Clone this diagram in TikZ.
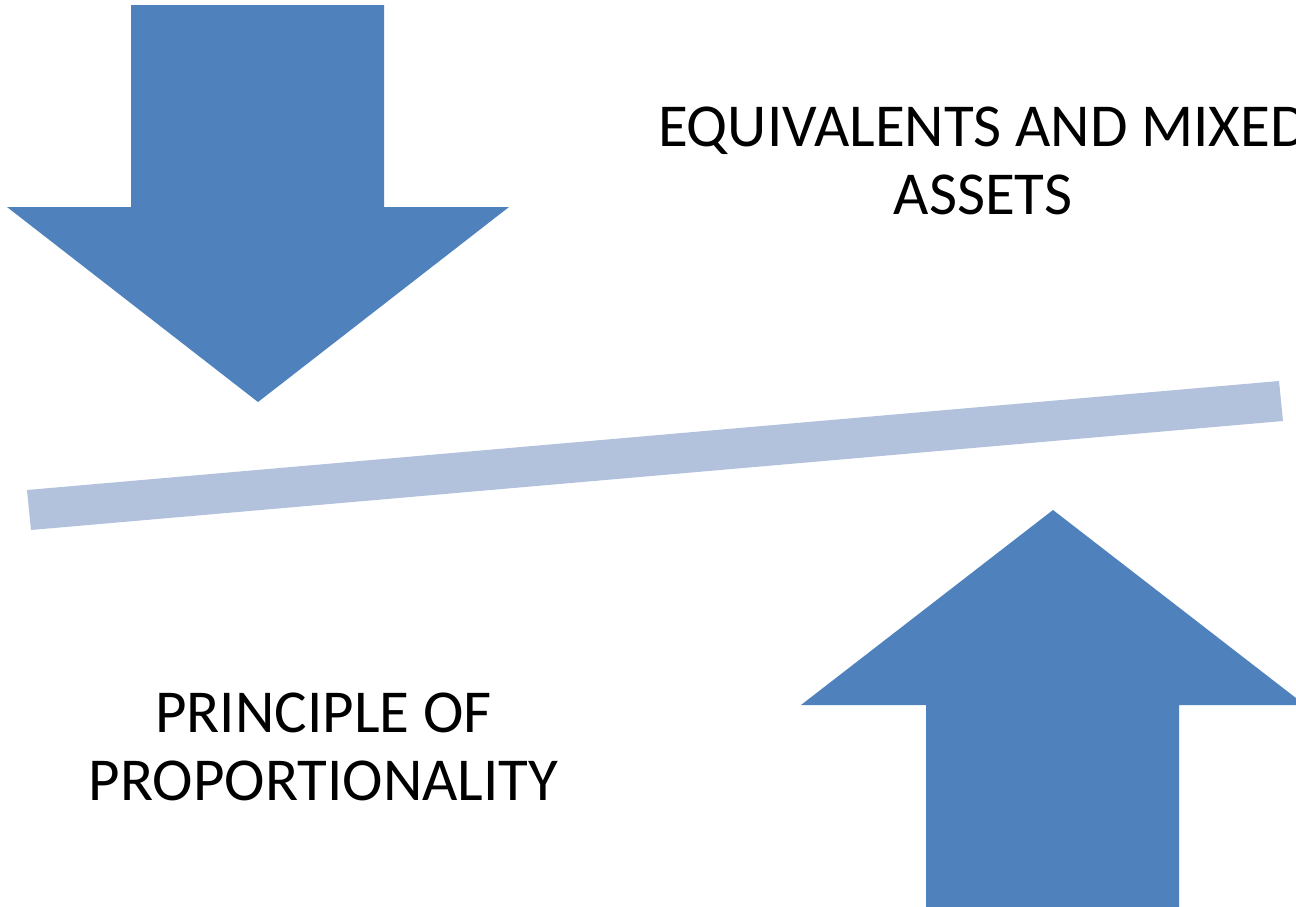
\documentclass[tikz,border=0pt]{standalone}
\usepackage{fontspec}
\setmainfont{Carlito}
\definecolor{arrowblue}{HTML}{4F81BD}
\definecolor{barblue}{HTML}{B3C2DC}
\begin{document}
\begin{tikzpicture}[x=1pt,y=-1pt,
  bigarrow/.style={fill=arrowblue,draw=none},
  beam/.style={fill=barblue,draw=none},
  label/.style={font=\fontsize{61}{67.5}\selectfont,align=center,inner sep=0pt,anchor=north,text=black}]
\useasboundingbox (0,0) rectangle (1296,906);
\clip (0,0) rectangle (1296,906);
% down arrow
\path[bigarrow] (131,5) -- (384,5) -- (384,207) -- (509,207) -- (258,402) -- (7,207) -- (131,207) -- cycle;
% beam
\path[beam] (27,490) -- (1279,381) -- (1283,421) -- (31,530) -- cycle;
% up arrow
\path[bigarrow] (926,920) -- (926,705) -- (801,705) -- (1053,510) -- (1305,705) -- (1179,705) -- (1179,920) -- cycle;
\node[label] (eq) at (983,107) {EQUIVALENTS AND MIXED\\ASSETS};
\node[label] (pp) at (323.5,693) {PRINCIPLE OF\\PROPORTIONALITY};
\end{tikzpicture}
\end{document}
